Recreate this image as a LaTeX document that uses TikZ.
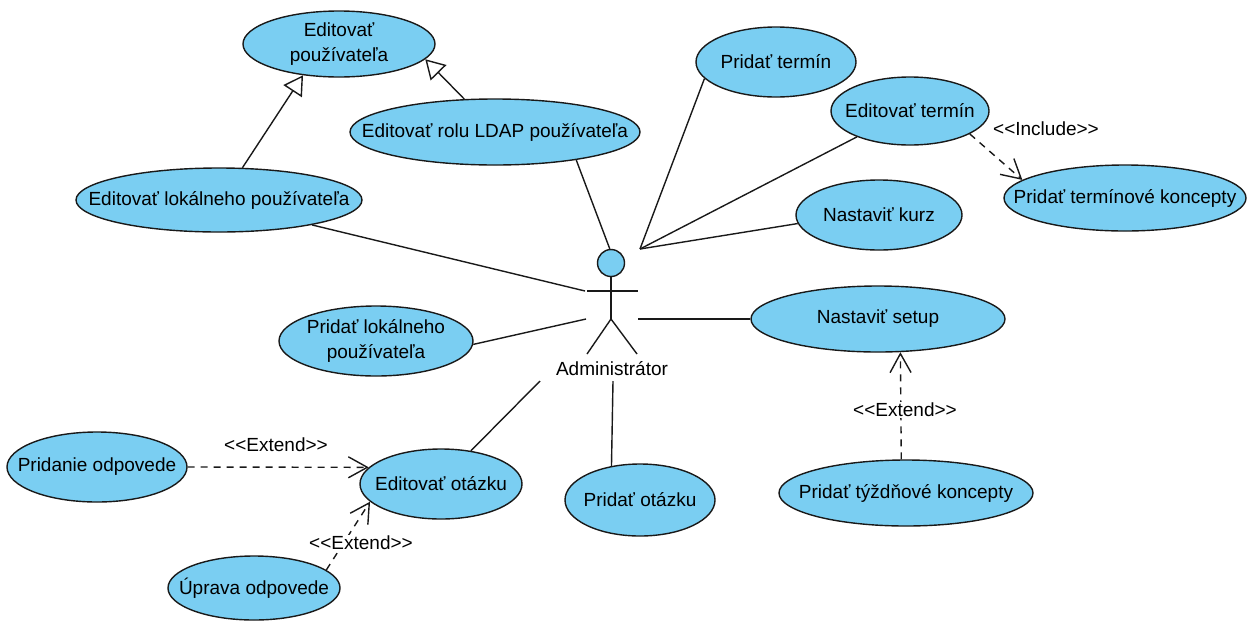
\documentclass[tikz,border=0pt]{standalone}
\usepackage{fontspec}
\setmainfont{Liberation Sans}
\usetikzlibrary{shapes.geometric,arrows.meta}
\definecolor{ucfill}{RGB}{122,206,242}
\definecolor{ucline}{RGB}{25,25,25}
\tikzset{
  uc/.style 2 args={ellipse, draw=ucline, fill=ucfill, line width=1.4pt,
    minimum width=#1, minimum height=#2, inner sep=0pt},
  assoc/.style={draw=ucline, line width=1.4pt},
  gen/.style={draw=ucline, line width=1.4pt,
    -{Triangle[length=19pt,width=22pt,fill=white,line width=1.4pt]}},
  dep/.style={draw=ucline, line width=1.4pt, dash pattern=on 7pt off 6pt,
    -{Straight Barb[length=19pt,width=21pt,line width=1.4pt]}},
  stereo/.style={fill=white, inner sep=1pt},
  limb/.style={draw=ucline, line width=1.4pt}
}
% stereotype brackets, kept apart so they are not joined into guillemets
\newcommand{\stlt}{<{}<}
\newcommand{\stgt}{>{}>}
\begin{document}
\begin{tikzpicture}[x=1pt,y=-1pt,font=\fontsize{19}{25}\selectfont]
\useasboundingbox (0,0) rectangle (1252,622);

% use cases
\node[uc={192}{66},  label={[align=center]center:Editovať\\používateľa}] (eu) at (339,44) {};
\node[uc={290}{66},  label={center:Editovať rolu LDAP používateľa}] (eldap) at (495,132) {};
\node[uc={286}{64},  label={center:Editovať lokálneho používateľa}] (elok) at (219,200) {};
\node[uc={160}{70},  label={center:Pridať termín}] (pterm) at (776,62) {};
\node[uc={158}{68},  label={center:Editovať termín}] (eterm) at (910,111) {};
\node[uc={242}{66},  label={center:Pridať termínové koncepty}] (ptk) at (1125,198) {};
\node[uc={166}{70},  label={center:Nastaviť kurz}] (nkurz) at (879,215) {};
\node[uc={254}{66},  label={center:Nastaviť setup}] (nsetup) at (878,319) {};
\node[uc={194}{70},  label={[align=center]center:Pridať lokálneho\\používateľa}] (plok) at (376,341) {};
\node[uc={180}{70},  label={center:Pridanie odpovede}] (podp) at (97,467) {};
\node[uc={162}{70},  label={center:Editovať otázku}] (eotaz) at (441,484) {};
\node[uc={150}{72},  label={center:Pridať otázku}] (potaz) at (640,500) {};
\node[uc={254}{66},  label={center:Pridať týždňové koncepty}] (ptyz) at (906,493) {};
\node[uc={172}{64},  label={center:Úprava odpovede}] (uodp) at (254,588) {};

% actor
\node[circle, draw=ucline, fill=ucfill, line width=1.4pt, minimum size=27pt, inner sep=0pt] (head) at (611,263) {};
\coordinate (hip) at (611,319);
\coordinate (armL) at (587,291);
\coordinate (armR) at (638,291);
\coordinate (footL) at (587,354);
\coordinate (footR) at (637,354);
\draw[limb] (head.south) -- (hip);
\draw[limb] (armL) -- (armR);
\draw[limb] (footL) -- (hip) -- (footR);
\node (actor) at (612,369) {Administrátor};

% attachment points around the actor
\coordinate (aNE) at (640,249);
\coordinate (aW1) at (585,291);
\coordinate (aW2) at (586,319);
\coordinate (aE)  at (638,319);
\coordinate (aSW) at (540,381);
\coordinate (aS)  at (613,381);

% associations
\draw[assoc] (head.95) -- (eldap.341);
\draw[assoc] (aNE) -- (pterm.193);
\draw[assoc] (aNE) -- (eterm.206);
\draw[assoc] (aNE) -- (nkurz.186);
\draw[assoc] (aW1) -- (elok.345);
\draw[assoc] (aW2) -- (plok.358);
\draw[assoc] (aE)  -- (nsetup.180);
\draw[assoc] (aSW) -- (eotaz.48);
\draw[assoc] (aS)  -- (potaz.130);

% generalizations
\draw[gen] (elok.54) -- (eu.221);
\draw[gen] (eldap.133) -- (eu.350);

% include / extend
\draw[dep] (eterm.339) -- (ptk.170);
\draw[dep] (podp.0) -- (eotaz.167);
\draw[dep] (uodp.14) -- (eotaz.194);
\draw[dep] (ptyz.98) -- (nsetup.304);

\node[stereo] (linc) at (1046,129) {\stlt Include\stgt};
\node[stereo] (lext1) at (276,445) {\stlt Extend\stgt};
\node[stereo] (lext2) at (361,543) {\stlt Extend\stgt};
\node[stereo] (lext3) at (905,410) {\stlt Extend\stgt};
\end{tikzpicture}
\end{document}
